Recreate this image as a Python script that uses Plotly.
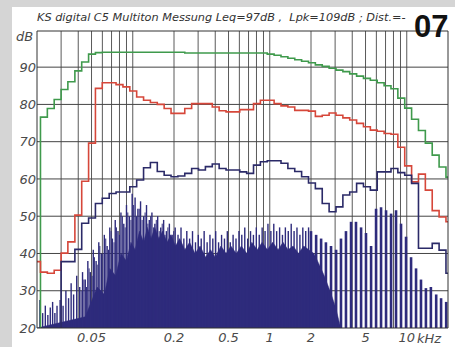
import plotly.graph_objects as go

# ---------------- data ----------------
band_edges_hz = [21.2, 23.8, 26.7, 30.0, 33.6, 37.8, 42.4, 47.6, 53.4, 59.9,
                 67.3, 75.5, 84.8, 95.2, 106.8, 119.9, 134.5, 151.0, 169.5, 190.3,
                 213.6, 239.7, 269.1, 302.0, 339.0, 380.6, 427.2, 479.5, 538.2, 604.1,
                 678.1, 761.1, 854.3, 958.9, 1076, 1208, 1356, 1522, 1708, 1918,
                 2152, 2416, 2712, 3044, 3417, 3835, 4305, 4832, 5424, 6088,
                 6834, 7671, 8610, 9664, 10848, 12177, 13668, 15342, 17220, 19330]

green_db = [76.6, 78.9, 81.3, 84.0, 86.1, 89.0, 91.4, 93.5, 93.9, 94.0,
            94.0, 94.0, 94.0, 94.0, 94.0, 94.0, 94.0, 94.0, 94.0, 94.0,
            94.0, 93.8, 93.8, 93.8, 93.8, 93.8, 93.8, 93.8, 93.8, 93.8,
            93.8, 93.8, 93.8, 93.5, 93.2, 92.8, 92.4, 92.0, 91.6, 91.2,
            90.6, 90.2, 89.7, 89.2, 88.8, 88.2, 87.6, 87.0, 86.5, 85.8,
            85.0, 84.2, 81.7, 79.0, 76.0, 73.0, 69.6, 66.4, 63.2, 60.5]

red_db = [35.0, 34.7, 35.5, 40.1, 43.1, 50.3, 59.4, 69.6, 84.3, 85.8,
          85.8, 85.3, 84.7, 83.6, 82.0, 81.1, 80.5, 80.0, 78.9, 77.6,
          77.6, 78.9, 80.2, 80.2, 80.2, 79.3, 78.3, 78.0, 78.0, 78.6,
          78.6, 80.2, 81.1, 81.1, 80.2, 79.6, 79.3, 78.4, 78.4, 78.2,
          76.8, 77.1, 77.7, 77.1, 76.4, 75.8, 74.9, 74.0, 73.1, 72.8,
          72.2, 72.0, 68.5, 63.5, 59.2, 61.3, 57.0, 51.5, 49.8, 48.5]

blue_db = [None, None, None, 37.8, 37.8, 41.1, 48.1, 49.5, 53.4, 54.8,
           56.1, 56.5, 56.5, 57.9, 59.7, 63.0, 64.4, 62.0, 61.0, 60.6,
           60.8, 61.5, 62.8, 62.4, 63.3, 64.0, 62.8, 62.4, 62.4, 61.9,
           61.5, 63.7, 64.6, 64.9, 64.9, 64.2, 62.8, 62.0, 60.6, 58.9,
           57.4, 53.4, 51.2, 52.5, 55.7, 56.5, 58.8, 57.9, 57.0, 61.9,
           61.9, 62.8, 61.7, 61.0, 58.8, 41.4, 41.4, 42.7, 40.9, 34.7]

# multitone spectrum: solid part (jagged top)
floor_hz = [20, 45, 55, 62, 68, 75, 82, 90, 97, 104, 112, 120, 128, 136, 145, 155, 165, 178, 190, 205,
            220, 240, 260, 285, 310, 340, 370, 400, 440, 480, 520, 570, 620, 680, 740, 810, 880, 960,
            1050, 1150, 1250, 1360, 1480, 1620, 1770, 1930, 2100, 2300, 2500, 2750, 3000, 3300]
floor_db = [20, 23, 31, 29, 36, 34, 40, 38, 43, 41, 46, 43, 47, 44, 47, 44, 46, 43, 45, 42,
            44, 41, 43, 40, 42, 39, 41, 39, 42, 40, 42, 40, 42, 40, 43, 41, 43, 41,
            43, 41, 43, 41, 42, 40, 42, 41, 40, 37, 34, 30, 26, 20]

# individual tone lines (low / mid band)
tone_hz = [21, 22, 23, 24, 25, 26, 27, 28, 29.5, 31, 32.5, 34, 35.5, 37, 39, 41, 43, 45, 47, 49,
           51.5, 54, 56.5, 59, 62, 65, 68, 71, 74.5, 78, 82, 86, 90, 94.5, 99,
           104, 109, 114, 120, 126, 132, 138, 145, 152, 160, 168, 176, 185, 194, 204,
           214, 225, 236, 248, 260, 273, 287, 301, 316, 332, 349, 366, 384, 403, 423,
           445, 467, 490, 515, 540, 567, 596, 625, 657, 690, 724, 760, 798, 838, 880,
           924, 970, 1019, 1070, 1123, 1180, 1238, 1300, 1365, 1434, 1505, 1580, 1660, 1743, 1830, 1920]
tone_db = [27.5, 24, 26, 23.5, 25.5, 27, 24, 26, 27.5, 26, 30, 28, 32, 29, 34, 31, 35, 33, 38, 35,
           41, 38, 43, 40, 45, 42, 47, 44, 49, 46, 51, 48, 53, 50, 56,
           55, 52, 54, 50, 53, 49, 51, 48, 50, 47, 49, 46, 48, 45, 47,
           45, 47, 44, 46, 44, 46, 43, 45, 44, 46, 43, 45, 44, 46, 43,
           45, 44, 46, 43, 45, 44, 46, 45, 47, 44, 46, 45, 47, 45, 47,
           46, 48, 46, 48, 46, 47, 45, 47, 46, 48, 46, 47, 45, 47, 46, 47]

# extra tone lines in between (40 Hz .. 200 Hz)
tone2_hz = [42, 44, 46, 48, 50.5, 52.5, 55, 57.5, 60.5, 63.5, 66.5, 69.5, 73, 76, 80, 84, 88, 92,
            97, 101.5, 106.5, 111.5, 117, 123, 129, 135, 141.5, 148.5, 156, 164, 172, 180.5, 189.5, 199]
tone2_db = [30, 33, 31, 36, 34, 39, 37, 42, 40, 44, 41, 46, 43, 47, 45, 50, 47, 51,
            49, 53, 50, 52, 49, 51, 48, 50, 47, 49, 46, 48, 45, 47, 45, 46]

# individual tone lines (high band, kHz)
hf_tone_khz = [2.0, 2.18, 2.37, 2.57, 2.80, 3.05, 3.31, 3.60, 3.92, 4.26, 4.64, 5.04, 5.49, 5.97,
               6.49, 7.06, 7.68, 8.35, 9.08, 9.88, 10.75, 11.69, 12.7, 13.8, 15.0, 16.4, 17.8, 19.4]
hf_tone_db = [46, 45, 44, 43, 42, 41, 44, 46, 48.5, 48.5, 47, 45.5, 42, 52,
              52.4, 51.6, 50.7, 51.6, 48, 44.5, 39, 36, 33, 30.7, 31, 29, 28, 27]

grid_khz = [0.03, 0.04, 0.05, 0.06, 0.07, 0.08, 0.09, 0.1,
            0.2, 0.3, 0.4, 0.5, 0.6, 0.7, 0.8, 0.9, 1,
            2, 3, 4, 5, 6, 7, 8, 9, 10]
x_label_vals = [0.05, 0.2, 0.5, 1, 2, 5, 10]
x_label_text = ["0.05", "0.2", "0.5", "1", "2", "5", "10"]
y_tick_vals = [20, 30, 40, 50, 60, 70, 80, 90]

title_text = "KS digital C5 Multiton Messung Leq=97dB ,  Lpk=109dB ; Dist.=-"

# ---------------- build ----------------
band_khz = [f / 1000 for f in band_edges_hz] + [20.0]

def step(vals):
    return list(vals) + [vals[-1]]

def comb(freqs_khz, levels):
    xs, ys = [], []
    for f, d in zip(freqs_khz, levels):
        xs += [f, f, None]
        ys += [20, d, None]
    return xs, ys

fig = go.Figure()
SPEC = "#2e2b7c"

fig.add_trace(go.Scatter(x=[f / 1000 for f in floor_hz], y=floor_db, mode="lines",
                         line=dict(color=SPEC, width=0.5), fill="tozeroy", fillcolor=SPEC,
                         hoverinfo="skip", showlegend=False))

xs, ys = comb([f / 1000 for f in tone_hz], tone_db)
fig.add_trace(go.Scatter(x=xs, y=ys, mode="lines", line=dict(color=SPEC, width=1.4),
                         hoverinfo="skip", showlegend=False))
xs, ys = comb([f / 1000 for f in tone2_hz], tone2_db)
fig.add_trace(go.Scatter(x=xs, y=ys, mode="lines", line=dict(color=SPEC, width=1.0),
                         hoverinfo="skip", showlegend=False))
xs, ys = comb(hf_tone_khz, hf_tone_db)
fig.add_trace(go.Scatter(x=xs, y=ys, mode="lines", line=dict(color=SPEC, width=2.6),
                         hoverinfo="skip", showlegend=False))

fig.add_trace(go.Scatter(x=[band_khz[0]] + band_khz, y=[20] + step(green_db), mode="lines",
                         line=dict(color="#3f9a4c", width=1.6, shape="hv"), showlegend=False))
fig.add_trace(go.Scatter(x=[0.02] + band_khz, y=[37.8] + step(red_db), mode="lines",
                         line=dict(color="#d6473a", width=1.6, shape="hv"), showlegend=False))
fig.add_trace(go.Scatter(x=[band_khz[3]] + band_khz[3:], y=[20] + step(blue_db[3:]), mode="lines",
                         line=dict(color="#2b2a68", width=1.6, shape="hv"), showlegend=False))

tick_font = dict(family="DejaVu Sans", size=13, color="#4a4a4a", style="italic")

fig.update_xaxes(type="log", range=[-1.69897, 1.30103], tickvals=x_label_vals,
                 ticktext=x_label_text, showgrid=False, automargin=False,
                 showline=False, ticks="", tickfont=tick_font, zeroline=False)
fig.update_yaxes(range=[20, 99.7], tickvals=y_tick_vals, showgrid=False, automargin=False,
                 showline=False, ticks="", tickfont=tick_font, zeroline=False)

shapes = [
    dict(type="rect", xref="paper", yref="paper", x0=-0.1, x1=1.1, y0=1.0808, y1=1.2,
         fillcolor="#d5d5d5", line=dict(width=0), layer="below"),
    dict(type="rect", xref="paper", yref="paper", x0=-0.1, x1=-0.0608, y0=-0.1, y1=1.2,
         fillcolor="#d5d5d5", line=dict(width=0), layer="below"),
]
for g in grid_khz:
    shapes.append(dict(type="line", xref="x", yref="paper", x0=g, x1=g, y0=0, y1=1,
                       line=dict(color="#5a5a5a", width=1), layer="below"))
for v in y_tick_vals[1:]:
    shapes.append(dict(type="line", xref="paper", yref="y", x0=0, x1=1, y0=v, y1=v,
                       line=dict(color="#444444", width=1), layer="below"))
shapes.append(dict(type="rect", xref="paper", yref="paper", x0=0, x1=1, y0=0, y1=1,
                   line=dict(color="#333333", width=1), layer="above"))

fig.update_layout(
    width=455, height=347,
    margin=dict(l=37, r=7, t=31, b=19, pad=0, autoexpand=False),
    paper_bgcolor="white", plot_bgcolor="white",
    shapes=shapes,
    annotations=[
        dict(text="<i>" + title_text + "</i>", xref="paper", yref="paper", x=-0.005, y=1.045,
             xanchor="left", yanchor="middle", showarrow=False,
             font=dict(family="DejaVu Sans", size=11.3, color="#333333")),
        dict(text="<b>07</b>", xref="paper", yref="paper", x=1.005, y=1.015,
             xanchor="right", yanchor="middle", showarrow=False,
             font=dict(family="Liberation Sans Narrow, Liberation Sans", size=31, color="#111111")),
        dict(text="<i>dB</i>", xref="paper", yref="paper", x=-0.005, y=0.98,
             xanchor="right", yanchor="middle", showarrow=False,
             font=dict(family="DejaVu Sans", size=13, color="#4a4a4a")),
        dict(text="<i>kHz</i>", xref="paper", yref="paper", x=0.99, y=-0.034,
             xanchor="right", yanchor="middle", showarrow=False,
             font=dict(family="DejaVu Sans", size=13, color="#4a4a4a")),
    ],
)

fig.write_html("out.html")
